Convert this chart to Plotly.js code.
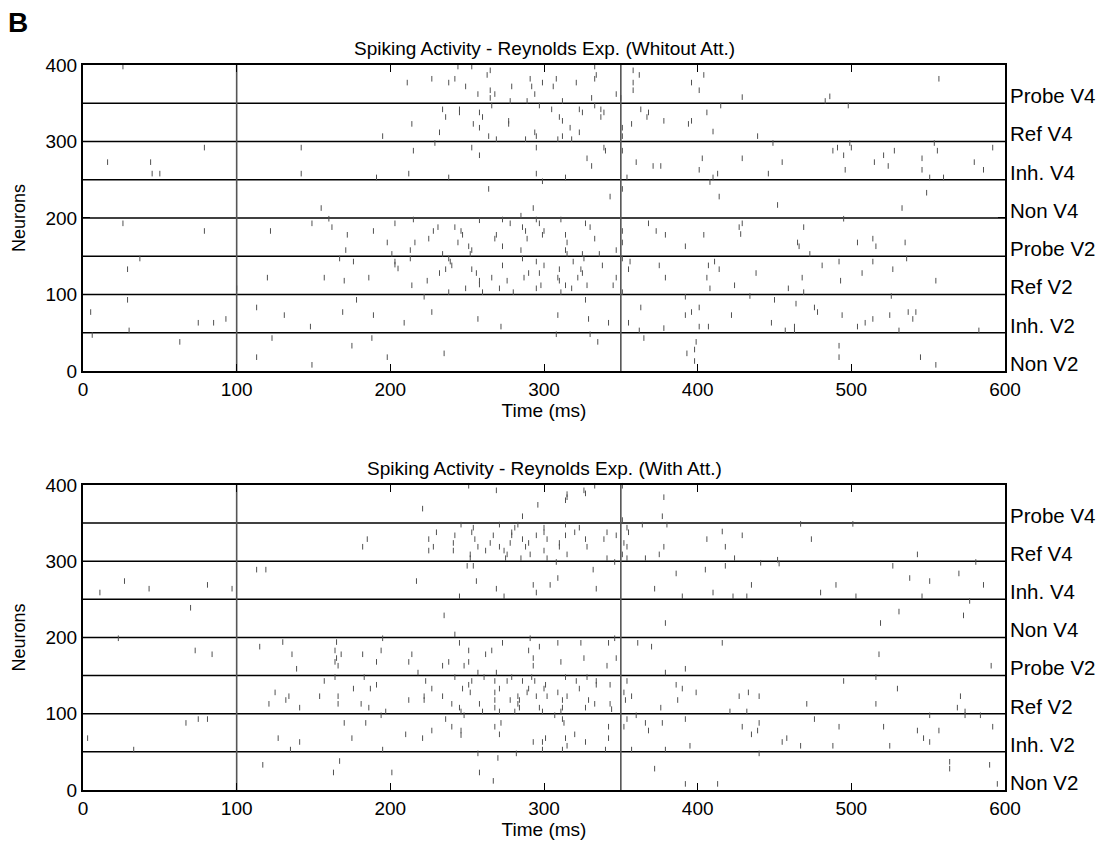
<!DOCTYPE html>
<html><head><meta charset="utf-8">
<script src="https://cdn.plot.ly/plotly-3.0.1.min.js"></script>
<style>html,body{margin:0;padding:0;background:#fff}#chart{width:1104px;height:843px}</style>
</head><body><div id="chart"></div>
<script>
const populations = ["Probe V4","Ref V4","Inh. V4","Non V4","Probe V2","Ref V2","Inh. V2","Non V2"];
const labelNeuron = [360,310,260,210,160,110,60,10];
const boundaries = [50,100,150,200,250,300,350];
const markerTimes = [100,350];
const xTicks = [0,100,200,300,400,500,600];
const yTicks = [0,100,200,300,400];
const titleTop = "Spiking Activity - Reynolds Exp. (Whitout Att.)";
const titleBottom = "Spiking Activity - Reynolds Exp. (With Att.)";

// [time (ms), neuron index]
const topSpikes = [
[26,398],[195,307],[79,292],[16,273],[44,273],[45,258],[50,258],[142,292],[142,258],[191,253],[155,213],[160,199],
[244,398],[253,398],[333,398],[265,393],[263,387],[334,387],[358,393],[362,387],[404,387],[227,382],[242,382],[211,377],[238,377],[291,382],[308,382],[299,377],[321,377],[333,382],[249,372],[279,372],[292,372],[306,372],[358,377],[358,367],[396,377],[401,367],[265,367],[257,362],[265,357],[268,362],[294,362],[331,357],[347,362],[350,357],[278,353],[289,353],[312,353],
[266,347],[297,347],[333,347],[234,342],[245,342],[245,338],[258,338],[260,332],[236,332],[305,342],[323,342],[325,338],[337,342],[339,338],[337,332],[310,332],[312,327],[277,327],[277,323],[214,323],[254,323],[258,318],[232,312],[294,312],[295,307],[264,307],[269,303],[288,303],[309,303],[312,307],[317,318],[323,312],[318,303],[351,318],[351,307],[363,342],[368,338],[367,332],[357,323],[378,327],[394,323],[396,327],
[229,298],[215,288],[253,292],[258,282],[295,292],[339,292],[340,288],[328,278],[331,268],[212,258],[238,253],[295,258],[314,253],[351,288],[360,273],[371,268],[376,268],[403,278],[401,263],[354,253],
[299,248],[264,238],[351,238],[343,228],[293,213],[285,203],
[557,382],[429,358],[486,359],[483,353],[415,347],[498,347],[406,338],[410,313],[439,307],
[449,298],[429,278],[455,273],[499,298],[500,292],[488,288],[491,292],[495,282],[496,263],[515,273],[521,282],[528,288],[524,268],[546,278],[546,263],[554,298],[556,288],[551,253],[560,253],[580,273],[586,263],[592,292],[446,258],[413,258],[410,253],[408,247],
[414,228],[452,217],[549,233],[533,213],[495,199],
[26,193],[79,183],[149,193],[162,188],[122,183],[172,178],[189,183],[198,168],[171,158],[201,153],
[37,147],[29,133],[167,147],[176,143],[120,122],[157,122],[170,118],[186,122],[100,108],
[29,93],[5,77],[30,53],[75,63],[85,63],[93,68],[113,83],[131,73],[148,58],[178,93],[169,77],[189,73],
[6,47],[63,38],[123,43],[188,43],[175,33],[113,18],[149,8],[198,18],
[215,198],[258,197],[273,198],[295,198],[311,198],
[203,193],[278,193],[297,193],[327,193],[330,188],[228,183],[231,188],[242,188],[246,183],[247,178],[269,178],[268,173],[286,188],[288,183],[300,183],[299,178],[314,178],[225,173],[244,168],[216,168],[289,173],[315,168],[333,173],[351,183],[351,168],[251,163],[253,158],[273,163],[213,158],[285,158],[314,158],[315,153],[234,153],[252,153],[325,153],[336,153],[347,158],[368,193],[373,183],[379,178],[404,178],[392,163],
[203,143],[203,139],[205,134],[213,147],[238,147],[239,143],[240,138],[236,133],[232,128],[253,133],[256,128],[273,138],[286,147],[295,143],[300,138],[297,128],[290,128],[266,122],[258,118],[258,113],[224,118],[214,112],[276,118],[287,122],[295,108],[298,112],[310,133],[309,122],[310,118],[314,112],[318,108],[319,143],[324,133],[325,128],[322,122],[326,147],[328,112],[338,138],[345,112],[347,122],[249,108],[238,103],[260,103],[271,108],[280,103],[311,103],[351,147],[356,143],[355,133],[375,138],[379,122],[351,103],
[222,97],[227,77],[209,63],[257,68],[272,58],[327,93],[309,73],[329,68],[342,63],[355,63],[363,83],[362,53],[378,56],[392,97],[396,77],[392,73],[401,83],[401,58],
[308,48],[330,48],[335,38],[365,43],[235,23],[399,38],[398,28],[393,23],[398,13],
[427,188],[429,193],[428,179],[469,188],[465,168],[466,163],[473,153],[504,168],[514,173],[516,163],[535,168],
[411,143],[407,138],[414,133],[406,122],[408,108],[424,112],[438,128],[459,108],[468,122],[469,103],[481,138],[492,143],[493,118],[507,128],[514,143],[527,133],[536,147],[555,118],
[434,98],[450,93],[464,88],[476,83],[478,77],[422,73],[494,73],[448,63],[463,58],[463,53],[457,53],[407,58],[504,58],[509,63],[514,68],[525,73],[526,98],[537,77],[542,77],[540,68],[531,53],[583,53],
[492,33],[492,18],[545,18],[555,8]
];

const bottomSpikes = [
[185,329],[182,319],[27,274],[11,259],[43,264],[81,269],[97,264],[113,289],[119,289],[70,239],[23,199],[195,199],
[251,399],[269,393],[326,393],[327,389],[333,399],[315,388],[315,384],[314,380],[296,374],[221,369],[286,359],[351,399],[378,384],[377,359],[351,354],
[246,348],[271,348],[283,348],[300,344],[314,348],[254,344],[253,338],[281,344],[279,338],[230,338],[242,334],[267,334],[279,334],[295,334],[300,338],[314,334],[320,338],[323,344],[341,338],[347,334],[225,329],[255,329],[265,324],[241,324],[286,329],[290,324],[288,319],[302,329],[310,324],[310,319],[278,324],[327,329],[339,329],[328,319],[225,314],[228,319],[241,314],[257,319],[262,314],[271,319],[274,314],[276,309],[252,309],[252,304],[291,309],[300,314],[315,309],[285,304],[275,304],[302,304],[341,304],[354,344],[355,338],[364,348],[380,348],[352,324],[354,319],[351,309],[354,304],[366,304],[375,309],[378,319],
[250,294],[254,294],[308,299],[332,289],[346,299],[217,274],[256,274],[309,278],[269,264],[293,269],[295,259],[304,269],[334,264],[245,254],[274,254],[386,284],[372,264],[390,254],
[235,229],[379,219],[242,204],[291,199],[346,199],
[467,349],[501,349],[416,339],[429,334],[406,329],[418,319],[474,329],[452,302],[453,297],[424,304],[543,309],
[441,298],[418,294],[405,289],[581,299],[527,294],[570,284],[538,278],[551,274],[435,269],[490,269],[586,269],[410,259],[480,259],[423,254],[432,254],[503,254],[546,254],
[577,248],[531,234],[573,229],[519,219],
[73,183],[84,178],[115,188],[130,194],[136,178],[139,159],[165,194],[164,183],[168,178],[165,173],[164,168],[166,163],[182,178],[194,183],[191,168],
[157,143],[164,148],[183,148],[176,133],[187,133],[191,138],[125,128],[134,123],[132,118],[154,123],[166,123],[121,113],[141,108],[166,113],[181,113],[186,108],[197,103],
[67,88],[75,93],[81,93],[3,68],[33,53],[194,98],[170,88],[184,88],[127,68],[141,63],[175,68],[135,53],[195,53],
[117,33],[167,38],[163,23],[201,23],
[245,193],[273,193],[309,193],[324,193],[342,193],[361,193],[370,188],[297,188],[251,183],[266,183],[290,183],[214,178],[262,178],[212,168],[238,168],[251,168],[293,173],[311,168],[326,173],[347,173],[234,163],[248,163],[293,163],[341,163],[218,154],[257,154],[269,154],[379,154],[392,159],
[242,148],[223,143],[253,143],[251,138],[261,148],[268,143],[279,148],[276,143],[286,143],[292,148],[294,143],[301,138],[300,133],[314,148],[321,143],[328,148],[334,143],[334,138],[343,138],[354,143],[386,138],[390,133],[227,133],[247,133],[252,128],[268,128],[271,133],[289,128],[290,133],[323,133],[302,123],[315,123],[295,123],[283,123],[284,118],[234,123],[222,123],[222,118],[212,118],[268,118],[278,118],[309,128],[312,118],[329,118],[333,113],[240,113],[258,113],[245,108],[246,103],[260,103],[268,108],[271,103],[281,103],[283,113],[284,108],[297,108],[299,103],[312,108],[311,103],[327,108],[343,113],[344,106],[352,128],[353,118],[357,123],[376,108],[399,128],[387,118],
[236,93],[248,98],[307,98],[312,93],[313,88],[240,83],[268,83],[272,88],[342,83],[227,78],[246,78],[246,72],[210,73],[221,68],[271,73],[301,68],[293,63],[299,63],[314,68],[320,73],[327,63],[342,68],[315,58],[299,53],[312,53],[340,53],[354,93],[360,98],[352,83],[366,88],[368,78],[377,88],[392,93],[395,58],[357,53],[379,53],
[257,48],[270,42],[282,48],[258,23],[267,12],[372,28],[392,8],
[416,193],[518,178],[591,163],
[495,143],[516,148],[530,133],[427,123],[433,128],[440,123],[471,113],[516,113],[571,123],[569,108],[574,103],[421,103],[432,103],
[551,98],[574,98],[584,98],[476,93],[440,88],[429,83],[439,78],[435,73],[492,83],[521,83],[543,78],[557,78],[592,83],[547,68],[551,63],[458,68],[455,63],[467,58],[488,58],[525,58],
[440,48],[564,37],[564,28],[590,33],[413,8],[595,8]
];

const FONT = "Liberation Sans, Arial, Helvetica, sans-serif";
const spikeMarker = {symbol:'line-ns', size:4, color:'#505050', line:{width:1, color:'#505050'}};

const traces = [
  {type:'scatter', mode:'markers', x: topSpikes.map(s=>s[0]), y: topSpikes.map(s=>s[1]), xaxis:'x', yaxis:'y', marker: spikeMarker, hoverinfo:'skip', cliponaxis:false},
  {type:'scatter', mode:'markers', x: bottomSpikes.map(s=>s[0]), y: bottomSpikes.map(s=>s[1]), xaxis:'x2', yaxis:'y2', marker: spikeMarker, hoverinfo:'skip', cliponaxis:false}
];

function xAxis(anchor){
  return {domain:[0,1], range:[0,600], anchor:anchor, tickvals:xTicks, ticktext:xTicks.map(String),
    ticks:'inside', ticklen:7, tickwidth:1, tickcolor:'#000', showline:true, linecolor:'#000', linewidth:2,
    mirror:'ticks', showgrid:false, zeroline:false, tickfont:{family:FONT, size:19, color:'#000'},
    title:{text:'Time (ms)', font:{family:FONT, size:19, color:'#000'}, standoff:0}};
}
function yAxis(anchor, dom){
  return {domain:dom, range:[0,400], anchor:anchor, tickvals:yTicks, ticktext:yTicks.map(String),
    ticks:'inside', ticklen:7, tickwidth:1, tickcolor:'#000', showline:true, linecolor:'#000', linewidth:2,
    mirror:'ticks', showgrid:false, zeroline:false, tickfont:{family:FONT, size:19, color:'#000'},
    title:{text:'Neurons', font:{family:FONT, size:18, color:'#000'}, standoff:15}};
}

const shapes = [];
[['x','y'],['x2','y2']].forEach(([xr,yr])=>{
  boundaries.forEach(b=>shapes.push({type:'line', xref:xr, yref:yr, x0:0, x1:600, y0:b, y1:b, line:{color:'#000', width:1.5}, layer:'below'}));
  markerTimes.forEach(t=>shapes.push({type:'line', xref:xr, yref:yr, x0:t, x1:t, y0:0, y1:400, line:{color:'#555', width:1.6}, layer:'below'}));
});

const annotations = [];
[['x','y'],['x2','y2']].forEach(([xr,yr])=>{
  populations.forEach((p,i)=>annotations.push({xref:xr, yref:yr, x:600, y:labelNeuron[i], text:p, showarrow:false,
    xanchor:'left', yanchor:'middle', xshift:3, font:{family:FONT, size:20.5, color:'#000'}}));
});
annotations.push({xref:'x domain', yref:'y domain', x:0.5, y:1, yanchor:'bottom', yshift:4, text:titleTop, showarrow:false, font:{family:FONT, size:19, color:'#000'}});
annotations.push({xref:'x2 domain', yref:'y2 domain', x:0.5, y:1, yanchor:'bottom', yshift:4, text:titleBottom, showarrow:false, font:{family:FONT, size:19, color:'#000'}});
annotations.push({xref:'paper', yref:'paper', x:-0.083, y:1.083, xanchor:'left', yanchor:'top', text:'<b>B</b>', showarrow:false, font:{family:FONT, size:28, color:'#000'}});

const layout = {
  width:1104, height:843, margin:{l:83, r:99, t:65, b:53},
  paper_bgcolor:'#fff', plot_bgcolor:'#fff', showlegend:false,
  xaxis: xAxis('y'), yaxis: yAxis('x',[0.578,1]),
  xaxis2: xAxis('y2'), yaxis2: yAxis('x2',[0,0.4207]),
  shapes: shapes, annotations: annotations
};

Plotly.newPlot('chart', traces, layout, {staticPlot:true, displayModeBar:false});
</script></body></html>
